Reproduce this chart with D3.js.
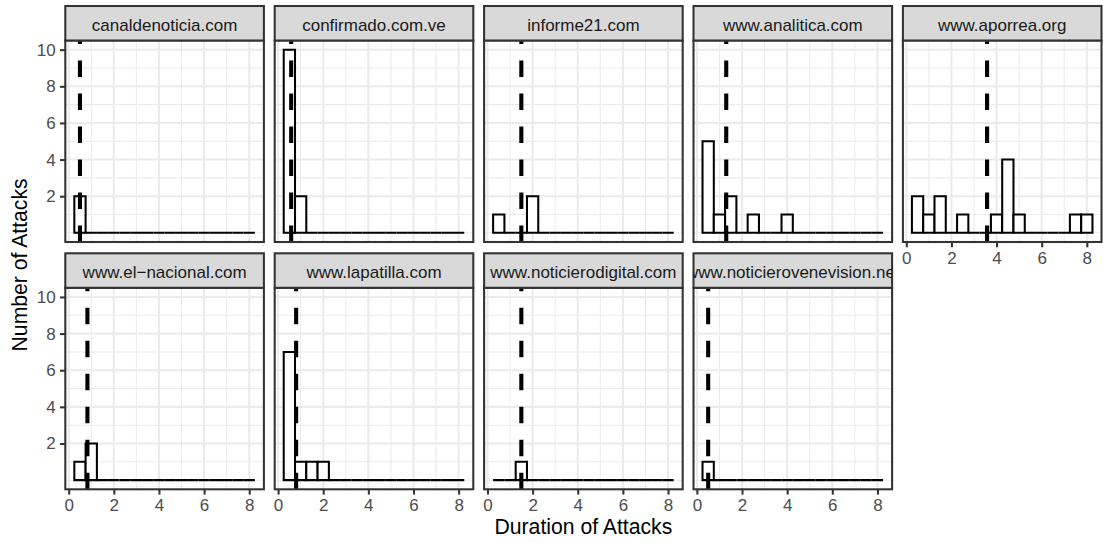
<!DOCTYPE html>
<html>
<head>
<meta charset="utf-8">
<script src="https://cdn.jsdelivr.net/npm/d3@7"></script>
<style>
  html, body { margin: 0; padding: 0; background: #fff; }
  svg { display: block; font-family: "Liberation Sans", Arial, Helvetica, sans-serif; }
</style>
</head>
<body>
<svg id="chart" width="1103" height="543"></svg>
<script>
// ---- data ----
const sites = ["canaldenoticia.com", "confirmado.com.ve", "informe21.com", "www.analitica.com",
  "www.aporrea.org", "www.el\u2212nacional.com", "www.lapatilla.com", "www.noticierodigital.com",
  "www.noticierovenevision.net"];
const binCenters = [0.5, 1, 1.5, 2, 2.5, 3, 3.5, 4, 4.5, 5, 5.5, 6, 6.5, 7, 7.5, 8];
const binWidth = 0.5;
const countsCanal        = [2,0,0,0,0,0,0,0,0,0,0,0,0,0,0,0];
const countsConfirmado   = [10,2,0,0,0,0,0,0,0,0,0,0,0,0,0,0];
const countsInforme21    = [1,0,0,2,0,0,0,0,0,0,0,0,0,0,0,0];
const countsAnalitica    = [5,1,2,0,1,0,0,1,0,0,0,0,0,0,0,0];
const countsAporrea      = [2,1,2,0,1,0,0,1,4,1,0,0,0,0,1,1];
const countsElNacional   = [1,2,0,0,0,0,0,0,0,0,0,0,0,0,0,0];
const countsLapatilla    = [7,1,1,1,0,0,0,0,0,0,0,0,0,0,0,0];
const countsNotDigital   = [0,0,1,0,0,0,0,0,0,0,0,0,0,0,0,0];
const countsNotVenevision= [1,0,0,0,0,0,0,0,0,0,0,0,0,0,0,0];
const meanDuration = [0.5, 0.58, 1.5, 1.3, 3.58, 0.83, 0.8, 1.5, 0.5];
const xTicks = [0, 2, 4, 6, 8];
const xMinor = [1, 3, 5, 7];
const yTicks = [2, 4, 6, 8, 10];
const yMinor = [0, 1, 3, 5, 7, 9];
const xTitle = "Duration of Attacks";
const yTitle = "Number of Attacks";

const allCounts = [countsCanal, countsConfirmado, countsInforme21, countsAnalitica, countsAporrea,
  countsElNacional, countsLapatilla, countsNotDigital, countsNotVenevision];

// ---- layout ----
const W = 1103, H = 543;
const left0 = 65.3, colStep = 209.4, panelW = 198.6;
const top0 = 6, stripH = 34.5, panelH = 201.5, rowStep = 247.3;
const ncol = 5;

const svg = d3.select("#chart");
svg.append("rect").attr("width", W).attr("height", H).attr("fill", "#fff");

const x = d3.scaleLinear().domain([-0.15, 8.65]).range([0, panelW]);
const y = d3.scaleLinear().domain([-0.5, 10.5]).range([panelH, 0]);

const defs = svg.append("defs");

sites.forEach((site, i) => {
  const col = i % ncol, row = Math.floor(i / ncol);
  const px = left0 + col * colStep;
  const sy = top0 + row * rowStep;
  const py = sy + stripH;
  const g = svg.append("g").attr("transform", `translate(${px},${py})`);

  defs.append("clipPath").attr("id", "clip" + i)
    .append("rect").attr("x", 0).attr("y", 0).attr("width", panelW).attr("height", panelH);
  defs.append("clipPath").attr("id", "sclip" + i)
    .append("rect").attr("x", 0).attr("y", 0).attr("width", panelW).attr("height", stripH);

  const inner = g.append("g").attr("clip-path", `url(#clip${i})`);
  inner.append("rect").attr("width", panelW).attr("height", panelH).attr("fill", "#fff");

  // minor grid
  inner.selectAll(".xm").data(xMinor).enter().append("line")
    .attr("x1", d => x(d)).attr("x2", d => x(d)).attr("y1", 0).attr("y2", panelH)
    .attr("stroke", "#EBEBEB").attr("stroke-width", 1.03);
  inner.selectAll(".ym").data(yMinor).enter().append("line")
    .attr("y1", d => y(d)).attr("y2", d => y(d)).attr("x1", 0).attr("x2", panelW)
    .attr("stroke", "#EBEBEB").attr("stroke-width", 1.03);
  // major grid
  inner.selectAll(".xM").data(xTicks).enter().append("line")
    .attr("x1", d => x(d)).attr("x2", d => x(d)).attr("y1", 0).attr("y2", panelH)
    .attr("stroke", "#EBEBEB").attr("stroke-width", 2.06);
  inner.selectAll(".yM").data(yTicks).enter().append("line")
    .attr("y1", d => y(d)).attr("y2", d => y(d)).attr("x1", 0).attr("x2", panelW)
    .attr("stroke", "#EBEBEB").attr("stroke-width", 2.06);

  // histogram bars (including zero-height bins)
  const bins = binCenters.map((c, k) => ({c, n: allCounts[i][k]}));
  inner.selectAll(".bar").data(bins).enter().append("path")
    .attr("d", d => {
      const x0 = x(d.c - binWidth / 2), x1 = x(d.c + binWidth / 2);
      const y0 = y(0), y1 = y(d.n);
      return `M${x0},${y0}V${y1}H${x1}V${y0}Z`;
    })
    .attr("fill", "#fff").attr("stroke", "#000").attr("stroke-width", 2.06)
    .attr("stroke-linejoin", "miter");

  // mean line (dashed, drawn from bottom to top)
  inner.append("line")
    .attr("x1", x(meanDuration[i])).attr("x2", x(meanDuration[i]))
    .attr("y1", panelH).attr("y2", 0)
    .attr("stroke", "#000").attr("stroke-width", 4.1)
    .attr("stroke-dasharray", "16.5,16.5");

  // panel border
  g.append("rect").attr("width", panelW).attr("height", panelH)
    .attr("fill", "none").attr("stroke", "#333333").attr("stroke-width", 2.06);

  // strip
  const sg = svg.append("g").attr("transform", `translate(${px},${sy})`);
  sg.append("rect").attr("width", panelW).attr("height", stripH)
    .attr("fill", "#D9D9D9").attr("stroke", "#333333").attr("stroke-width", 2.06);
  sg.append("g").attr("clip-path", `url(#sclip${i})`)
    .append("text").attr("x", panelW / 2).attr("y", 24.6)
    .attr("text-anchor", "middle").attr("font-size", 17).attr("fill", "#1A1A1A")
    .text(site);

  // x axis: bottom row, or panels with nothing below
  const hasBelow = i + ncol < sites.length;
  if (!hasBelow) {
    const ax = g.append("g").attr("transform", `translate(0,${panelH})`)
      .call(d3.axisBottom(x).tickValues(xTicks).tickSize(5.3).tickPadding(4.25).tickFormat(d3.format("d")));
    ax.select(".domain").remove();
    ax.selectAll(".tick line").attr("stroke", "#333333").attr("stroke-width", 2.06);
    ax.selectAll(".tick text").attr("font-size", 17).attr("fill", "#4D4D4D")
      .attr("font-family", "Liberation Sans, Arial, sans-serif");
  }
  if (col === 0) {
    const ay = g.append("g")
      .call(d3.axisLeft(y).tickValues(yTicks).tickSize(5.3).tickPadding(4.25).tickFormat(d3.format("d")));
    ay.select(".domain").remove();
    ay.selectAll(".tick line").attr("stroke", "#333333").attr("stroke-width", 2.06);
    ay.selectAll(".tick text").attr("font-size", 17).attr("fill", "#4D4D4D")
      .attr("font-family", "Liberation Sans, Arial, sans-serif");
  }
});

// axis titles
const panelsLeft = left0, panelsRight = left0 + (ncol - 1) * colStep + panelW;
svg.append("text").attr("x", (panelsLeft + panelsRight) / 2).attr("y", 534.3)
  .attr("text-anchor", "middle").attr("font-size", 21.2).attr("fill", "#000").text(xTitle);
const panelsTop = top0 + stripH, panelsBottom = top0 + rowStep + stripH + panelH;
svg.append("text")
  .attr("transform", `translate(27,${(panelsTop + panelsBottom) / 2}) rotate(-90)`)
  .attr("text-anchor", "middle").attr("font-size", 21.2).attr("fill", "#000").text(yTitle);
</script>
</body>
</html>
